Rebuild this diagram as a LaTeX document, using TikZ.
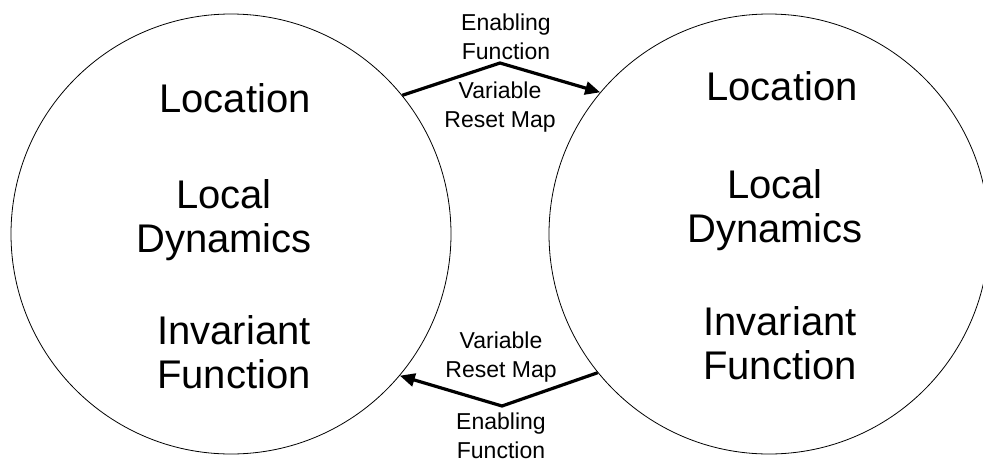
\documentclass[tikz,border=0pt]{standalone}
\usepackage{fontspec}
\setmainfont{Liberation Sans}
\usetikzlibrary{arrows.meta}

\begin{document}
\begin{tikzpicture}[x=1pt, y=-1pt, >={Triangle[length=15pt,width=13pt]},
  mode/.style={draw, circle, line width=0.8pt, minimum size=440pt, inner sep=0pt},
  big/.style={align=center, inner sep=0pt, font=\fontsize{40}{44}\selectfont},
  small/.style={align=center, inner sep=0pt, font=\fontsize{23}{29}\selectfont},
  jump/.style={->, line width=3.2pt}]
  \useasboundingbox (0,0) rectangle (983,467);

  % the two locations (right one runs off the page edge)
  \node[mode] (qa) at (231,234) {};
  \node[mode] (qb) at (769,234) {};

  % what the left location holds
  \node[big] (qaloc) at (235,98) {Location};
  \node[big] (qadyn) at (224,220) {Local\\Dynamics};
  \node[big] (qainv) at (234,352) {Invariant\\Function};

  % what the right location holds
  \node[big] (qbloc) at (782,86) {Location};
  \node[big] (qbdyn) at (775,210) {Local\\Dynamics};
  \node[big] (qbinv) at (780,343) {Invariant\\Function};

  % jump left -> right, guard above the kink, reset below
  \coordinate (topkink) at (500,63);
  \draw[jump] (qa.39.3) -- (topkink) -- (qb.140.5);
  \node[small] (topguard) at (506,37) {Enabling\\Function};
  \node[small] (topreset) at (500,107) {Variable\\Reset Map};

  % jump right -> left, reset above the kink, guard below
  \coordinate (botkink) at (502,406);
  \draw[jump] (qb.219.8) -- (botkink) -- (qa.320.3);
  \node[small] (botreset) at (501,357) {Variable\\Reset Map};
  \node[small] (botguard) at (501,436) {Enabling\\Function};
\end{tikzpicture}
\end{document}
